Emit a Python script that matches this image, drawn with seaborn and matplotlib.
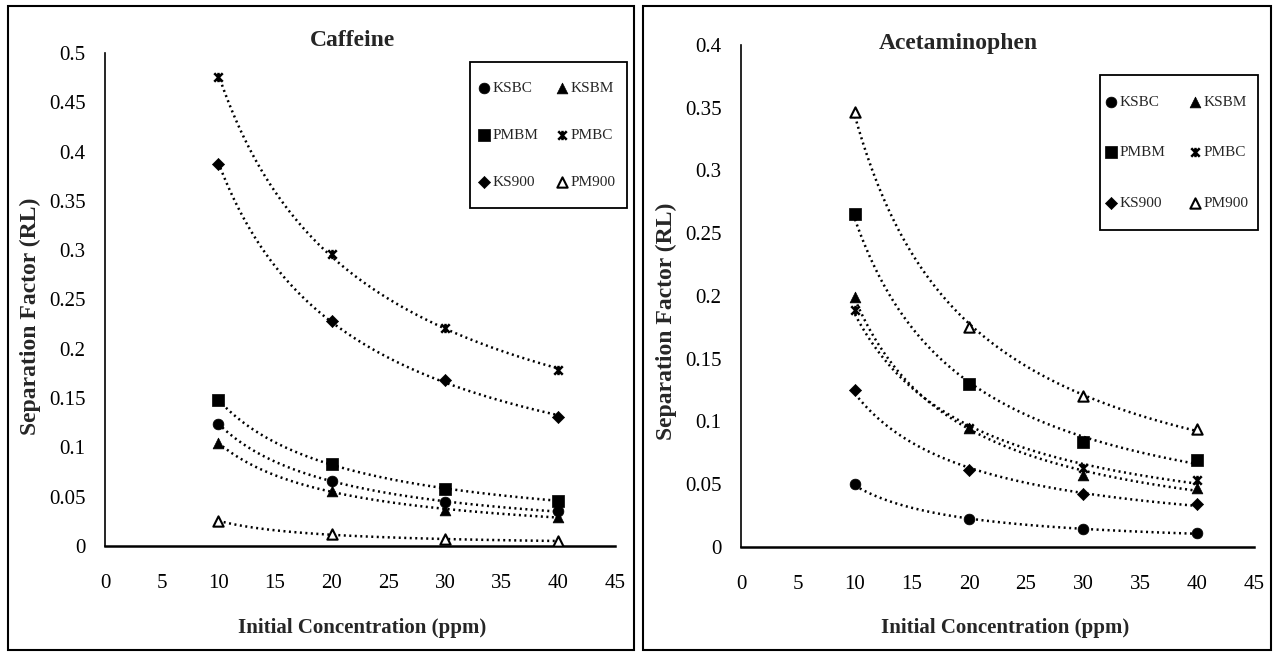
import numpy as np
import pandas as pd
import matplotlib
matplotlib.use("Agg")
import matplotlib.pyplot as plt
from matplotlib.path import Path
from matplotlib.patches import Rectangle
from matplotlib.ticker import FuncFormatter, MultipleLocator
import seaborn as sns

# ---------------- data ----------------
conc = [10, 20, 30, 40]
series_names = ["KSBC", "KSBM", "PMBM", "PMBC", "KS900", "PM900"]

# Caffeine
caf_KSBC = [0.124, 0.066, 0.045, 0.035]
caf_KSBM = [0.104, 0.056, 0.037, 0.029]
caf_PMBM = [0.148, 0.083, 0.058, 0.046]
caf_PMBC = [0.476, 0.296, 0.221, 0.179]
caf_KS900 = [0.387, 0.228, 0.168, 0.131]
caf_PM900 = [0.025, 0.012, 0.007, 0.005]

# Acetaminophen
ace_KSBC = [0.050, 0.022, 0.014, 0.011]
ace_KSBM = [0.199, 0.095, 0.057, 0.047]
ace_PMBM = [0.265, 0.130, 0.084, 0.069]
ace_PMBC = [0.189, 0.095, 0.063, 0.053]
ace_KS900 = [0.125, 0.061, 0.042, 0.034]
ace_PM900 = [0.347, 0.175, 0.120, 0.094]

titles = ["Caffeine", "Acetaminophen"]
xlabel = "Initial Concentration (ppm)"
ylabel = "Separation Factor (RL)"
x_ticks = [0, 5, 10, 15, 20, 25, 30, 35, 40, 45]

# ---------------- style ----------------
sns.set_style("white")
plt.rcParams["font.family"] = ["Liberation Serif", "DejaVu Serif"]

# star marker: x with vertical bar (spreadsheet style)
star_path = Path(
    [(-1, -1), (1, 1), (-1, 1), (1, -1), (0, -1.1), (0, 1.1)],
    [Path.MOVETO, Path.LINETO, Path.MOVETO, Path.LINETO, Path.MOVETO, Path.LINETO],
)

mk = {
    "KSBC": dict(marker="o", s=60, facecolor="black", edgecolor="black", linewidth=0.5),
    "KSBM": dict(marker="^", s=60, facecolor="black", edgecolor="black", linewidth=0.5),
    "PMBM": dict(marker="s", s=64, facecolor="black", edgecolor="black", linewidth=0.5),
    "PMBC": dict(marker=star_path, s=45, facecolor="black", edgecolor="black", linewidth=1.8),
    "KS900": dict(marker="D", s=38, facecolor="black", edgecolor="black", linewidth=0.5),
    "PM900": dict(marker="^", s=55, facecolor="white", edgecolor="black", linewidth=1.5),
}

W, H = 1276, 655
fig = plt.figure(figsize=(W / 100, H / 100), dpi=100)

def fx(px):
    return px / W

def fy(py):
    return 1 - py / H

panels = [
    dict(data=dict(KSBC=caf_KSBC, KSBM=caf_KSBM, PMBM=caf_PMBM, PMBC=caf_PMBC,
                   KS900=caf_KS900, PM900=caf_PM900),
         ax_px=(105, 615, 546, 53), ymax=0.5, title=titles[0], title_xy=(310, 40),
         frame=(8, 634, 6, 650), box=(470, 62, 627, 208),
         leg_anchor=(478, 81), labelspacing=2.2, colspacing=1.15,
         ylab_x=30, ylab_y=316, xlab_x=362),
    dict(data=dict(KSBC=ace_KSBC, KSBM=ace_KSBM, PMBM=ace_PMBM, PMBC=ace_PMBC,
                   KS900=ace_KS900, PM900=ace_PM900),
         ax_px=(741, 1254, 547, 45), ymax=0.4, title=titles[1], title_xy=(879, 44),
         frame=(643, 1271, 6, 650), box=(1100, 75, 1258, 230),
         leg_anchor=(1105, 95), labelspacing=2.42, colspacing=1.55,
         ylab_x=666, ylab_y=321, xlab_x=1005),
]

for p in panels:
    x0, x45, y0, ytop = p["ax_px"]
    ax = fig.add_axes([fx(x0), fy(y0), (x45 - x0) / W, (y0 - ytop) / H])
    data = p["data"]
    handles = {}
    xs = np.linspace(conc[0], conc[-1], 120)
    for name in series_names:
        vals = np.asarray(data[name], dtype=float)
        # power trend line (as in spreadsheet trendline)
        b, loga = np.polyfit(np.log(conc), np.log(vals), 1)
        fit = np.exp(loga) * xs ** b
        sns.lineplot(x=xs, y=fit, ax=ax, color="black", linewidth=1.8,
                     linestyle=(0, (0.8, 1.4)), legend=False, zorder=2)
        df = pd.DataFrame({"x": conc, "y": vals})
        sns.scatterplot(data=df, x="x", y="y", ax=ax, zorder=3, legend=False, **mk[name])
        handles[name] = ax.collections[-1]

    ax.set_xlim(0, 45)
    ax.set_ylim(0, p["ymax"])
    ax.set_xticks(x_ticks)
    ax.yaxis.set_major_locator(MultipleLocator(0.05))
    ax.yaxis.set_major_formatter(FuncFormatter(lambda v, _: "0" if abs(v) < 1e-9 else f"{v:g}"))
    ax.tick_params(axis="both", length=0, labelsize=15, colors="black")
    ax.tick_params(axis="x", pad=20)
    ax.tick_params(axis="y", pad=14)
    ax.set_xlabel("")
    ax.set_ylabel("")
    for side in ["top", "right"]:
        ax.spines[side].set_visible(False)
    for side in ["left", "bottom"]:
        ax.spines[side].set_color("black")
    ax.spines["left"].set_linewidth(1.2)
    ax.spines["bottom"].set_linewidth(1.8)
    ax.patch.set_alpha(0)

    # titles and axis labels
    fig.text(fx(p["title_xy"][0]), fy(p["title_xy"][1]), p["title"], ha="left", va="center",
             fontsize=17, fontweight="bold")
    fig.text(fx(p["xlab_x"]), fy(628), xlabel, ha="center", va="center",
             fontsize=15, fontweight="bold")
    fig.text(fx(p["ylab_x"]), fy(p["ylab_y"]), ylabel, ha="center", va="center",
             rotation=90, fontsize=17, fontweight="bold")

    # legend (rows: KSBC/KSBM, PMBM/PMBC, KS900/PM900)
    order = ["KSBC", "PMBM", "KS900", "KSBM", "PMBC", "PM900"]
    lx, ly = p["leg_anchor"]
    ax.legend([handles[n] for n in order], order, ncol=2,
              loc="upper left",
              bbox_to_anchor=(fx(lx), fy(ly)), bbox_transform=fig.transFigure,
              frameon=False, fontsize=11, labelspacing=p["labelspacing"],
              borderpad=0, handletextpad=0.15, handlelength=0.8,
              columnspacing=p["colspacing"], borderaxespad=0)
    bl, bt, br, bb = p["box"]
    fig.patches.append(Rectangle((fx(bl), fy(bb)), (br - bl) / W, (bb - bt) / H,
                                 transform=fig.transFigure, fill=False,
                                 edgecolor="black", linewidth=1.3))

    # chart frame
    fl, fr, ft, fb = p["frame"]
    fig.patches.append(Rectangle((fx(fl), fy(fb)), (fr - fl) / W, (fb - ft) / H,
                                 transform=fig.transFigure, fill=False,
                                 edgecolor="black", linewidth=1.5))

fig.savefig("out.png", dpi=100)
